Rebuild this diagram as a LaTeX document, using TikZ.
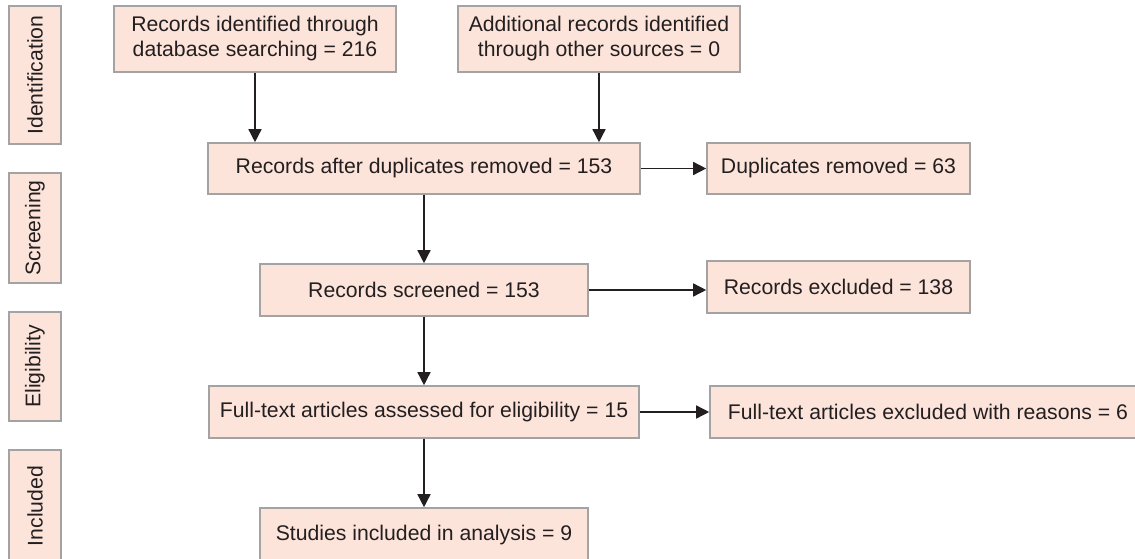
\documentclass[tikz,border=0pt]{standalone}
\usepackage{fontspec}
\setmainfont{Liberation Sans}
\usetikzlibrary{arrows.meta}
\definecolor{boxfill}{HTML}{FCE4DA}
\definecolor{boxline}{HTML}{A3A3A3}
\definecolor{ink}{HTML}{231F20}
\tikzset{
  flowbox/.style={draw=boxline, line width=1.6pt, fill=boxfill, text=ink, inner sep=0pt, align=center, font=\fontsize{21.2}{25}\selectfont},
  sidebox/.style={flowbox, rotate=90},
  conn/.style={draw=ink, line width=1.5pt, -{Triangle[length=13pt,width=13pt]}}
}
\begin{document}
\begin{tikzpicture}[x=1pt,y=-1pt]
\useasboundingbox (0,0) rectangle (1135,559);
\clip (0,0) rectangle (1135,559);
% phase labels
\node[sidebox, minimum width=138pt, minimum height=52pt] (ident) at (35,75) {Identification};
\node[sidebox, minimum width=110pt, minimum height=52pt] (screen) at (35,228) {Screening};
\node[sidebox, minimum width=109pt, minimum height=52pt] (elig) at (35,366.5) {Eligibility};
\node[sidebox, minimum width=112pt, minimum height=52pt] (incl) at (35,506) {Included};
% boxes
\node[flowbox, minimum width=282pt, minimum height=66pt] (b1) at (255,39) {Records identified through\\database searching = 216};
\node[flowbox, minimum width=282pt, minimum height=66pt] (b2) at (599,39) {Additional records identified\\through other sources = 0};
\node[flowbox, minimum width=432pt, minimum height=51pt] (b3) at (424,168.5) {Records after duplicates removed = 153};
\node[flowbox, minimum width=263pt, minimum height=51pt] (b4) at (838.5,168.5) {Duplicates removed = 63};
\node[flowbox, minimum width=328pt, minimum height=52pt] (b5) at (424,290) {Records screened = 153};
\node[flowbox, minimum width=263pt, minimum height=52pt] (b6) at (838.5,287) {Records excluded = 138};
\node[flowbox, minimum width=430pt, minimum height=52pt] (b7) at (424,412) {Full-text articles assessed for eligibility = 15};
\node[flowbox, minimum width=436pt, minimum height=52pt] (b8) at (928,412) {Full-text articles excluded with reasons = 6};
\node[flowbox, minimum width=328pt, minimum height=54pt] (b9) at (424,535) {Studies included in analysis = 9};
% connectors
\draw[conn] (b1.south) -- (b1.south |- b3.north);
\draw[conn] (b2.south) -- (b2.south |- b3.north);
\draw[conn] (b3.east) -- (b4.west);
\draw[conn] (b3.south) -- (b5.north);
\draw[conn] (b5.east) -- (b5.east -| b6.west);
\draw[conn] (b5.south) -- (b7.north);
\draw[conn] (b7.east) -- (b8.west);
\draw[conn] (b7.south) -- (b9.north);
\end{tikzpicture}
\end{document}
